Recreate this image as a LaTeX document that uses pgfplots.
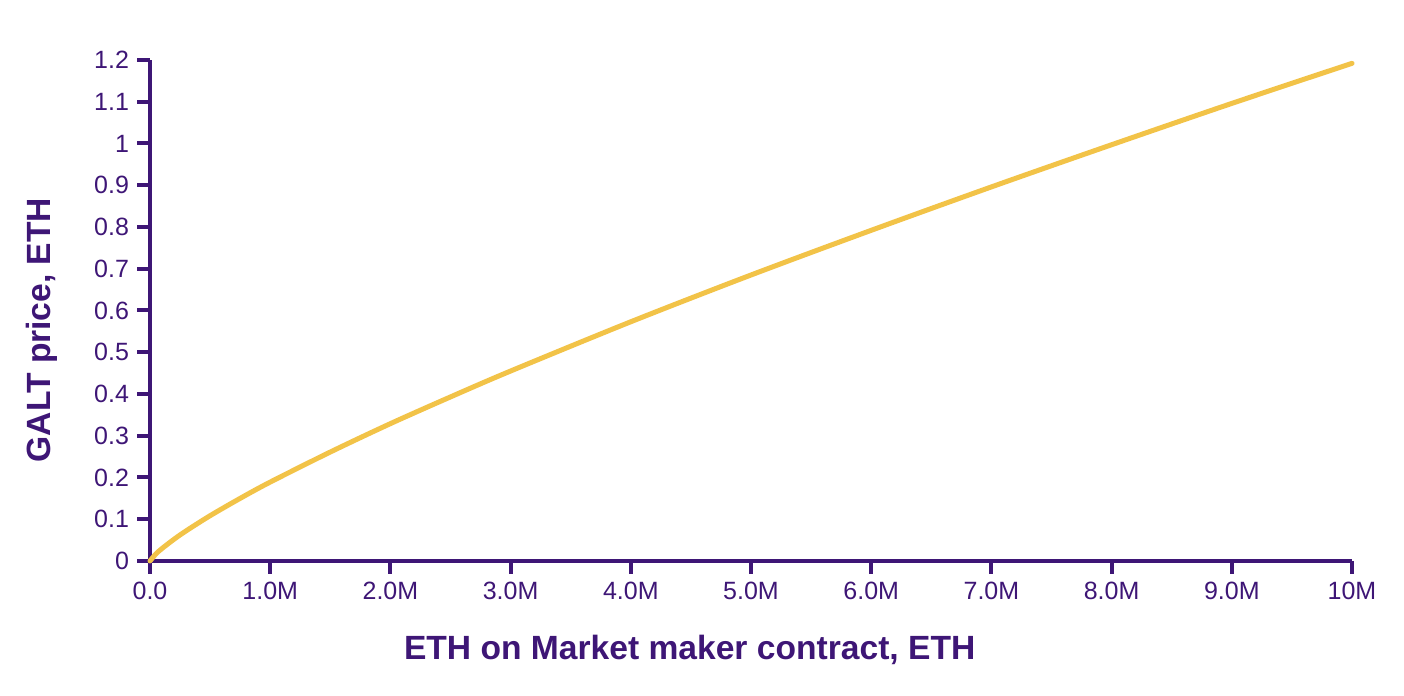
\documentclass[border=0pt]{standalone}
\usepackage{pgfplots}
\pgfplotsset{compat=1.18}
\usepackage{fontspec}
\setmainfont{Liberation Sans}
\definecolor{pur}{RGB}{62,22,118}
\definecolor{gold}{RGB}{242,195,72}
\begin{document}
\begin{tikzpicture}
\useasboundingbox (-75pt,-67.5pt) rectangle (627pt,280.5pt);
\begin{axis}[
  at={(0,0)}, anchor=origin,
  scale only axis, width=601pt, height=250.5pt,
  xmin=0, xmax=10, ymin=0, ymax=1.2,
  axis lines*=left,
  axis line style={pur, line width=2.2pt, -},
  every tick/.style={pur, line width=2pt},
  tick align=outside, major tick length=6.5pt,
  xtick={0,1,2,3,4,5,6,7,8,9,10},
  xticklabels={0.0,1.0M,2.0M,3.0M,4.0M,5.0M,6.0M,7.0M,8.0M,9.0M,10M},
  ytick={0,0.1,0.2,0.3,0.4,0.5,0.6,0.7,0.8,0.9,1,1.1,1.2},
  yticklabels={0,0.1,0.2,0.3,0.4,0.5,0.6,0.7,0.8,0.9,1,1.1,1.2},
  tick label style={font=\fontsize{12.5}{14}\selectfont, text=pur},
  xticklabel style={yshift=-0.5pt},
  yticklabel style={xshift=-0.5pt},
  xlabel={ETH on Market maker contract, ETH},
  ylabel={GALT price, ETH},
  label style={font=\bfseries\fontsize{16.8}{19}\selectfont, text=pur},
  xlabel style={at={(axis description cs:0.449,0)}, anchor=center, yshift=-44.5pt},
  ylabel style={at={(axis description cs:0,0.461)}, anchor=center, rotate=0, yshift=54pt},
  clip=false,
]
\addplot[gold, line width=2.5pt, line cap=round, smooth] coordinates {
(0,0) (0.05,0.0172) (0.1,0.0299) (0.2,0.0521) (0.3,0.0721) (0.5,0.1085)
(0.75,0.150) (1,0.189) (1.5,0.261) (2,0.329) (2.5,0.393) (3,0.455)
(4,0.573) (5,0.685) (6,0.792) (7,0.896) (8,0.997) (9,1.096) (10,1.192)
};
\end{axis}
\end{tikzpicture}
\end{document}
